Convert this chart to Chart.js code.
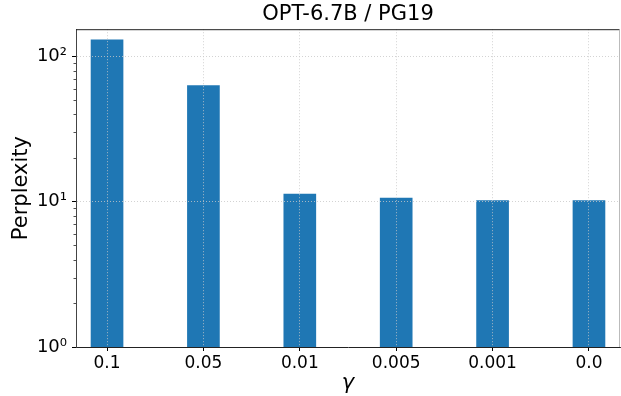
<!DOCTYPE html>
<html>
<head>
<meta charset="utf-8">
<script src="https://cdn.jsdelivr.net/npm/chart.js@4.4.1/dist/chart.umd.min.js"></script>
<style>
  html, body { margin: 0; padding: 0; background: #fff; }
  #wrap { width: 621px; height: 396px; }
</style>
</head>
<body>
<div id="wrap"><canvas id="myChart" width="621" height="396"></canvas></div>
<script>
// values
const gammas = ["0.1", "0.05", "0.01", "0.005", "0.001", "0.0"];
const perplexity = [130.3, 62.9, 11.3, 10.6, 10.2, 10.2];
const yMajorTicks = [1, 10, 100];
const yTickLabels = ["10\u2070", "10\u00b9", "10\u00b2"];

const FONT = "'DejaVu Sans', sans-serif";

// log minor ticks 2..9 in every decade up to the top of the axis
function logTicks(max) {
    var out = [];
    for (var d = 1; d <= max; d *= 10) {
        for (var k = 1; k <= 9; k++) {
            if (k * d <= max) out.push({ value: k * d, major: k === 1 });
        }
    }
    return out;
}

// draws the top/right spines and the short minor ticks on y
const spinesPlugin = {
    id: 'spines',
    afterDraw(chart) {
        const ctx = chart.ctx;
        const a = chart.chartArea;
        const y = chart.scales.y;
        ctx.save();
        ctx.strokeStyle = '#222';
        ctx.lineWidth = 1;
        ctx.beginPath();
        ctx.moveTo(a.left, a.top + 0.5);
        ctx.lineTo(a.right, a.top + 0.5);
        ctx.stroke();
        ctx.strokeStyle = '#bbb';
        ctx.beginPath();
        ctx.moveTo(a.right - 0.5, a.top);
        ctx.lineTo(a.right - 0.5, a.bottom);
        ctx.stroke();
        ctx.strokeStyle = '#222';
        ctx.lineWidth = 0.8;
        y.ticks.forEach(function (t) {
            if (yMajorTicks.indexOf(t.value) >= 0) return;
            const p = Math.round(y.getPixelForValue(t.value)) + 0.5;
            ctx.beginPath();
            ctx.moveTo(a.left - 2.5, p);
            ctx.lineTo(a.left, p);
            ctx.stroke();
        });
        ctx.restore();
    }
};

var ctx = document.getElementById('myChart').getContext('2d');
var myChart = new Chart(ctx, {
    type: 'bar',
    data: {
        datasets: [{
            label: 'Perplexity',
            data: gammas.map(function (g, i) { return { x: i, y: perplexity[i] }; }),
            backgroundColor: '#1f77b4',
            borderWidth: 0,
            barThickness: 32
        }]
    },
    plugins: [spinesPlugin],
    options: {
        responsive: false,
        animation: false,
        layout: { padding: { top: 0, right: 1, left: 0, bottom: 0 } },
        plugins: {
            legend: { display: false },
            tooltip: { enabled: false },
            title: {
                display: true,
                text: 'OPT-6.7B / PG19',
                fullSize: false,
                color: '#000',
                font: { family: FONT, size: 21, weight: 'normal' },
                padding: { top: 2, bottom: 2 }
            }
        },
        scales: {
            x: {
                type: 'linear',
                offset: false,
                min: -0.322,
                max: 5.322,
                afterBuildTicks: function (scale) {
                    scale.ticks = gammas.map(function (g, i) { return { value: i }; });
                },
                afterFit: function (scale) { scale.height = 49; },
                ticks: {
                    callback: function (v) { return gammas[v]; },
                    color: '#000',
                    font: { family: FONT, size: 17 },
                    padding: 2,
                    maxRotation: 0
                },
                grid: {
                    offset: false,
                    color: '#c8c8c8',
                    lineWidth: 0.8,
                    z: 1,
                    tickLength: 4,
                    tickColor: '#000',
                    tickWidth: 1
                },
                border: { display: true, color: '#222', width: 1, dash: [1, 2], z: 2 },
                title: {
                    display: true,
                    text: '\u03b3',
                    color: '#000',
                    font: { family: FONT, size: 21, style: 'italic' },
                    padding: { top: 0, bottom: 0 }
                }
            },
            y: {
                type: 'logarithmic',
                min: 1,
                max: 154,
                afterBuildTicks: function (scale) {
                    scale.ticks = logTicks(154);
                },
                afterFit: function (scale) { scale.width = 76; },
                ticks: {
                    autoSkip: false,
                    callback: function (v) {
                        const i = yMajorTicks.indexOf(v);
                        return i >= 0 ? yTickLabels[i] : '';
                    },
                    color: '#000',
                    font: { family: FONT, size: 18 },
                    padding: 5
                },
                grid: {
                    color: function (c) {
                        return yMajorTicks.indexOf(c.tick && c.tick.value) >= 0 ? '#c8c8c8' : 'rgba(0,0,0,0)';
                    },
                    lineWidth: 0.8,
                    z: 1,
                    tickLength: 4,
                    tickColor: function (c) {
                        return yMajorTicks.indexOf(c.tick && c.tick.value) >= 0 ? '#000' : 'rgba(0,0,0,0)';
                    },
                    tickWidth: 1
                },
                border: { display: true, color: '#444', width: 1, dash: [1, 2], z: 2 },
                title: {
                    display: true,
                    text: 'Perplexity',
                    color: '#000',
                    font: { family: FONT, size: 21 },
                    padding: { top: 9, bottom: 0 }
                }
            }
        }
    }
});
</script>
</body>
</html>
